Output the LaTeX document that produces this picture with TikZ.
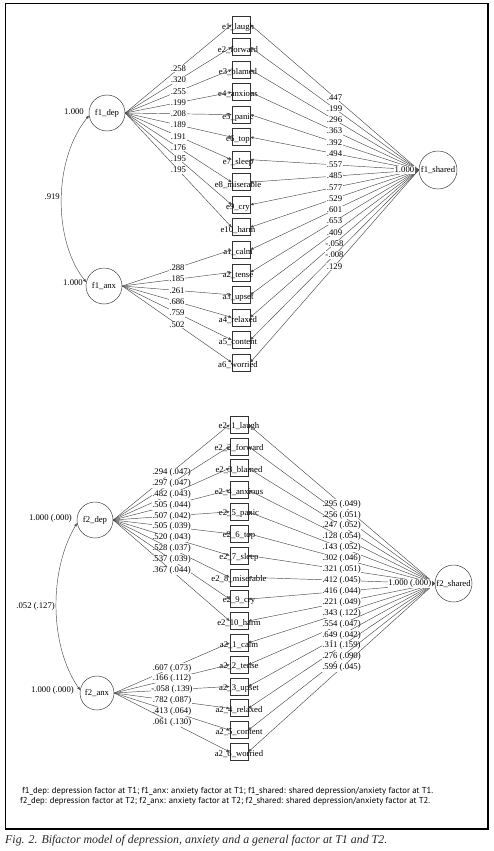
\documentclass[tikz,border=0pt]{standalone}
\usepackage{fontspec}
\setmainfont{Liberation Serif}
\setsansfont{PT Sans}
\usetikzlibrary{arrows.meta}
\begin{document}
\begin{tikzpicture}[x=1pt,y=-1pt,
  obsbox/.style={draw=black!80,line width=0.6pt,minimum width=18pt,minimum height=17pt,inner sep=0pt},
  latent/.style={circle,draw=black!75,line width=0.5pt,minimum size=36pt,inner sep=0pt,font=\fontsize{8.7}{9}\selectfont},
  vtxt/.style={font=\fontsize{8.7}{9}\selectfont,inner sep=0pt},
  ldg/.style={font=\fontsize{8.7}{9}\selectfont,fill=white,inner sep=0.6pt},
  conn/.style={draw=black!70,line width=0.45pt,-{Triangle[length=3.2pt,width=2.6pt]}},
  cov/.style={draw=black!70,line width=0.45pt,{Triangle[length=3.2pt,width=2.6pt]}-{Triangle[length=3.2pt,width=2.6pt]}},
]
\useasboundingbox (0,0) rectangle (493,851);
\draw[line width=1.1pt] (5.5,3.5) rectangle (488,829);

% ---------- top panel ----------
\foreach \lab [count=\i from 0] in {e1\_laugh,e2\_forward,e3\_blamed,e4\_anxious,e5\_panic,e6\_top,e7\_sleep,e8\_miserable,e9\_cry,e10\_harm,a1\_calm,a2\_tense,a3\_upset,a4\_relaxed,a5\_content,a6\_worried}{
  \pgfmathsetmacro\yy{24.5+22.53*\i}
  \node[obsbox] (t\i) at (241,\yy) {};
  \node[vtxt] (tl\i) at (238,{\yy+2.5}) {\lab};
}
\node[latent] (f1dep) at (107,113) {f1\_dep};
\node[latent] (f1anx) at (104,286) {f1\_anx};
\node[latent,minimum size=38pt] (f1sh) at (438,170) {f1\_shared};

\foreach \v [count=\i from 0] in {.258,.320,.255,.199,.208,.189,.191,.176,.195,.195}{
  \draw[conn] (f1dep.east) -- node[ldg,midway]{\v} (t\i.west);
}
\foreach \v [count=\i from 10] in {.288,.185,.261,.686,.759,.502}{
  \draw[conn] (f1anx.east) -- node[ldg,midway]{\v} (t\i.west);
}
\foreach \v [count=\i from 0] in {.447,.199,.296,.363,.392,.494,.557,.485,.577,.529,.601,.653,.409,-.058,-.008,.129}{
  \draw[conn] (f1sh.west) -- node[ldg,midway]{\v} (t\i.east);
}
\draw[cov] (f1dep.188) .. controls (53,160) and (53,240) .. (f1anx.168);
\node[vtxt,anchor=east] (c1) at (60,197) {.919};
\node[vtxt,anchor=east] (v1) at (84,112) {1.000};
\node[vtxt,anchor=east] (v2) at (83,283) {1.000};
\node[ldg,anchor=east] (v3) at (415,170) {1.000};

% ---------- bottom panel ----------
\foreach \lab [count=\i from 0] in {e2\_1\_laugh,e2\_2\_forward,e2\_3\_blamed,e2\_4\_anxious,e2\_5\_panic,e2\_6\_top,e2\_7\_sleep,e2\_8\_miserable,e2\_9\_cry,e2\_10\_harm,a2\_1\_calm,a2\_2\_tense,a2\_3\_upset,a2\_4\_relaxed,a2\_5\_content,a2\_6\_worried}{
  \pgfmathsetmacro\yy{424.5+21.83*\i}
  \node[obsbox] (b\i) at (239,\yy) {};
  \node[vtxt] (bl\i) at (239,{\yy+1.8}) {\lab};
}
\node[latent] (f2dep) at (95,520) {f2\_dep};
\node[latent,minimum size=34pt] (f2anx) at (97,693) {f2\_anx};
\node[latent,minimum size=37pt] (f2sh) at (453.5,583.5) {f2\_shared};

\foreach \v [count=\i from 0] in {.294 (.047),.297 (.047),.482 (.043),.505 (.044),.507 (.042),.505 (.039),.520 (.043),.528 (.037),.537 (.039),.367 (.044)}{
  \draw[conn] (f2dep.east) -- node[ldg,midway]{\v} (b\i.west);
}
\foreach \v [count=\i from 10] in {.607 (.073),.166 (.112),-.058 (.139),.782 (.087),.413 (.064),.061 (.130)}{
  \draw[conn] (f2anx.east) -- node[ldg,midway]{\v} (b\i.west);
}
\foreach \v [count=\i from 0] in {.295 (.049),.256 (.051),.247 (.052),.128 (.054),.143 (.052),.302 (.046),.321 (.051),.412 (.045),.416 (.044),.221 (.049),.343 (.122),.554 (.047),.649 (.042),.311 (.159),.276 (.090),.599 (.045)}{
  \draw[conn] (f2sh.west) -- node[ldg,midway]{\v} (b\i.east);
}
\draw[cov] (f2dep.190) .. controls (49,570) and (49,645) .. (f2anx.170);
\node[vtxt,anchor=east] (c2) at (55,606) {.052 (.127)};
\node[vtxt,anchor=east] (v4) at (72,518) {1.000 (.000)};
\node[vtxt,anchor=east] (v5) at (74,690) {1.000 (.000)};
\node[ldg,anchor=east] (v6) at (432,583.5) {1.000 (.000)};

% ---------- legend and caption ----------
\node[anchor=west,inner sep=0pt] (leg1) at (22,791) {\resizebox{411pt}{!}{\sffamily f1\_dep: depression factor at T1; f1\_anx: anxiety factor at T1; f1\_shared: shared depression/anxiety factor at T1.}};
\node[anchor=west,inner sep=0pt] (leg2) at (20,801.5) {\resizebox{410pt}{!}{\sffamily f2\_dep: depression factor at T2; f2\_anx: anxiety factor at T2; f2\_shared: shared depression/anxiety factor at T2.}};
\node[anchor=west,inner sep=0pt,text=black!85] (cap) at (5,841) {\resizebox{382pt}{!}{\itshape Fig. 2. Bifactor model of depression, anxiety and a general factor at T1 and T2.}};
\end{tikzpicture}
\end{document}
